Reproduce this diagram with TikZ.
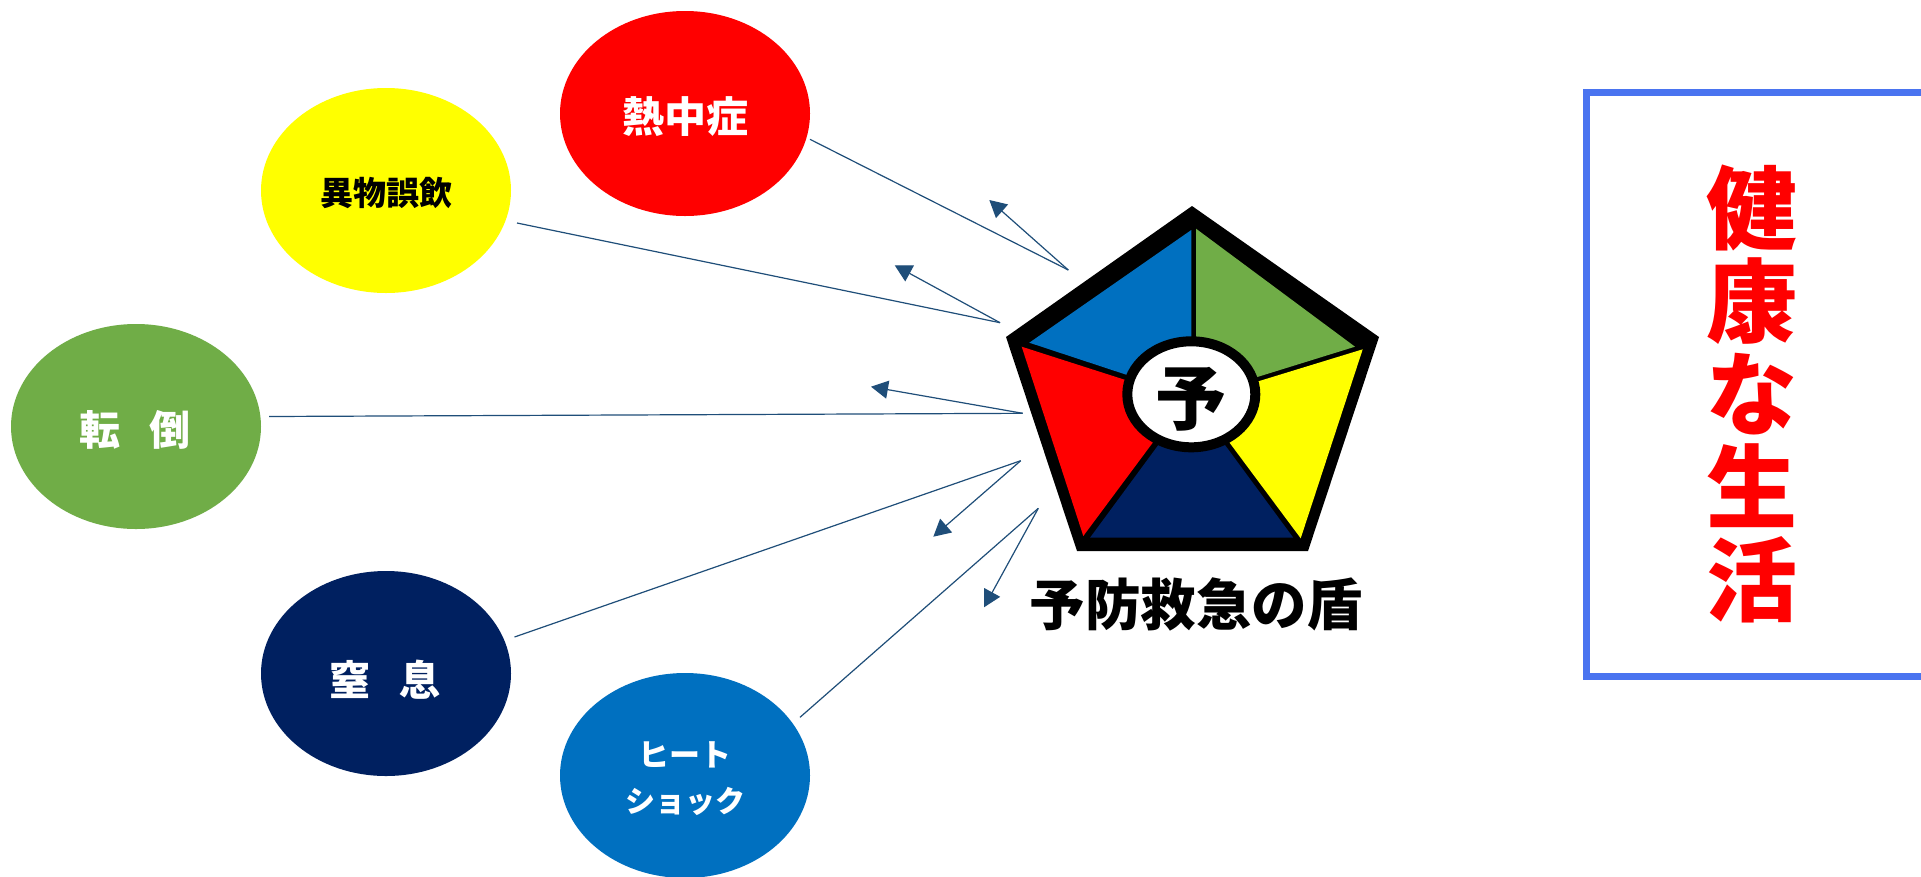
\documentclass[tikz,border=0pt]{standalone}
\usepackage{fontspec}
\usetikzlibrary{shapes.geometric,arrows.meta}
\newfontfamily\cjk{Noto Sans CJK JP Black}
\definecolor{cred}{HTML}{FF0000}
\definecolor{cyellow}{HTML}{FFFF00}
\definecolor{cgreen}{HTML}{70AD47}
\definecolor{cnavy}{HTML}{002060}
\definecolor{cblue}{HTML}{0070C0}
\definecolor{cline}{HTML}{1F4E79}
\definecolor{cbox}{HTML}{4A74F0}
\tikzset{
  blob/.style={ellipse,minimum width=250pt,minimum height=205pt,inner sep=0pt,fill=#1,draw=none},
  lab/.style={font=\cjk\fontsize{#1}{#1}\selectfont,inner sep=0pt,align=center},
  conn/.style={draw=cline,line width=1.2pt},
  back/.style={draw=cline,line width=1.2pt,-{Triangle[length=17pt,width=18pt]}},
  sector/.style={fill=#1,draw=none}
}
\begin{document}
\begin{tikzpicture}[x=1pt,y=-1pt]
\useasboundingbox (0,0) rectangle (1921,876);
\fill[white] (0,0) rectangle (1921,876);
% ellipses
\node[blob=cred] (heat) at (685,113.5) {};
\node[blob=cyellow] (ing) at (386,190.5) {};
\node[blob=cgreen] (fall) at (136,426.5) {};
\node[blob=cnavy] (chok) at (386,673.5) {};
\node[blob=cblue] (shock) at (685,775.5) {};
\node[lab=42,text=white] (t1) at (685,117) {熱中症};
\node[lab=33,text=black] (t2) at (386,193) {異物誤飲};
\node[lab=41,text=white] (t3) at (135,430) {転\hspace{29pt}倒};
\node[lab=41,text=white] (t4) at (385,680) {窒\hspace{29pt}息};
\node[lab=31,text=white] (t5) at (685,755) {ヒート};
\node[lab=30,text=white] (t6) at (685,801) {ショック};
% pentagon
\fill[black] (1192,206) -- (1379,337) -- (1308,551) -- (1077,551) -- (1006,337) -- cycle;
\fill[sector=cblue] (1191.3,230) -- (1029.3,342.7) -- (1125,374.3) -- (1191.3,394) -- cycle;
\fill[sector=cgreen] (1196,228.7) -- (1355,346.7) -- (1258.3,376.7) -- (1196,394) -- cycle;
\fill[sector=cyellow] (1362.7,349.3) -- (1300.7,538.3) -- (1230,443.3) -- (1195,394) -- (1259.3,381) -- cycle;
\fill[sector=cnavy] (1090,537.7) -- (1293.3,537.7) -- (1225,445) -- (1191,394) -- (1158.3,445) -- cycle;
\fill[sector=cred] (1021.7,346.7) -- (1123.3,379.3) -- (1191,394) -- (1152.7,442.7) -- (1083.3,536) -- cycle;
\node[ellipse,draw=black,fill=white,line width=10pt,minimum width=128pt,minimum height=106pt,inner sep=0pt] (yo) at (1191.3,394.3) {};
\node[lab=71,text=black] (yochar) at (1191.3,399) {予};
\node[lab=55.5,text=black] (title) at (1196,604) {予防救急の盾};
% right box
\draw[cbox,line width=7pt] (1940,92.5) -- (1586.5,92.5) -- (1586.5,676) -- (1940,676);
\node[text=cred,font=\cjk\fontsize{91}{93}\selectfont,inner sep=0pt,align=center] (health) at (1752,394) {健\\康\\な\\生\\活};
% connectors
\coordinate (a1) at (810,139.3);
\coordinate (b1) at (1068.3,270);
\coordinate (c1) at (989.3,200);
\coordinate (a2) at (517,223);
\coordinate (b2) at (1000,322.7);
\coordinate (c2) at (894.7,265.3);
\coordinate (a3) at (269,416.5);
\coordinate (b3) at (1022.7,413.3);
\coordinate (c3) at (871,386.7);
\coordinate (a4) at (514.5,637);
\coordinate (b4) at (1020.7,460.7);
\coordinate (c4) at (933.3,536.7);
\coordinate (a5) at (800,717.3);
\coordinate (b5) at (1038.3,508.3);
\coordinate (c5) at (984,607.3);
\foreach \i in {1,...,5}{
  \draw[conn] (a\i) -- (b\i);
  \draw[back] (b\i) -- (c\i);
}
\end{tikzpicture}
\end{document}
